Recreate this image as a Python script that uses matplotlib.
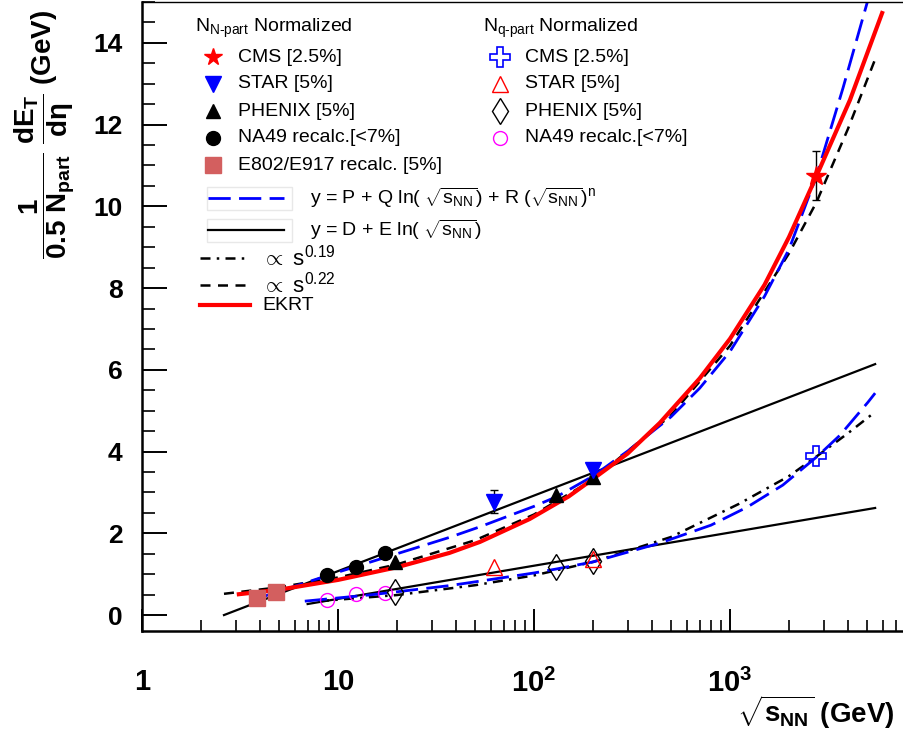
import matplotlib
matplotlib.use("Agg")
import matplotlib.pyplot as plt
from matplotlib.ticker import FixedLocator, MultipleLocator, NullFormatter
from matplotlib.patches import Rectangle

plt.rcParams['font.family'] = ['Liberation Sans', 'DejaVu Sans']
plt.rcParams['mathtext.fontset'] = 'custom'
plt.rcParams['mathtext.rm'] = 'Liberation Sans'
plt.rcParams['mathtext.it'] = 'Liberation Sans:italic'
plt.rcParams['mathtext.bf'] = 'Liberation Sans:bold'
plt.rcParams['mathtext.sf'] = 'Liberation Sans'

# --- N_part normalized data ---
cms_x = [2760]
cms_y = [10.75]
cms_err = [0.6]
star_x = [62.4, 200]
star_y = [2.77, 3.55]
star_err = [0.28, 0.15]
phenix_x = [19.6, 130, 200]
phenix_y = [1.30, 2.94, 3.38]
na49_x = [8.8, 12.3, 17.3]
na49_y = [0.98, 1.17, 1.52]
e802_x = [3.84, 4.80]
e802_y = [0.42, 0.57]

# --- N_q-part normalized data ---
cmsq_x = [2760]
cmsq_y = [3.89]
starq_x = [62.4, 200]
starq_y = [1.17, 1.37]
phenixq_x = [19.6, 130, 200]
phenixq_y = [0.56, 1.17, 1.32]
na49q_x = [8.8, 12.3, 17.3]
na49q_y = [0.37, 0.51, 0.54]

# --- curves ---
lin_hi_x = [2.62, 5500]
lin_hi_y = [0.0, 6.14]
lin_lo_x = [7.0, 5500]
lin_lo_y = [0.27, 2.62]

fit_hi_x = [3.68, 5, 10, 20, 37, 53, 100, 131, 200, 308, 500, 700, 1000, 1500,
            2000, 2760, 3773, 5300]
fit_hi_y = [0.37, 0.58, 1.05, 1.50, 1.90, 2.16, 2.66, 2.90, 3.40, 4.05, 4.85, 5.55,
            6.45, 7.8, 8.95, 10.74, 12.9, 15.4]

ekrt_x = [3.12, 5, 10, 20, 37, 53, 95, 150, 200, 300, 438, 700, 1000, 1500, 2000,
          2760, 4090, 5970]
ekrt_y = [0.51, 0.62, 0.86, 1.17, 1.52, 1.79, 2.35, 2.90, 3.33, 3.95, 4.70, 5.79,
          6.76, 8.08, 9.25, 10.74, 12.6, 14.73]

pow22_x = [2.62, 5, 10, 20, 50, 100, 200, 500, 1000, 2000, 2760, 4000, 5500]
pow22_y = [0.52, 0.68, 0.92, 1.24, 1.83, 2.46, 3.31, 4.89, 6.59, 8.85, 10.1, 11.9,
           13.6]

fit_lo_x = [6.77, 15, 37, 53, 100, 131, 200, 438, 800, 1223, 1859, 2800, 3640, 5060,
            5500]
fit_lo_y = [0.34, 0.50, 0.72, 0.83, 1.03, 1.13, 1.30, 1.76, 2.20, 2.64, 3.18, 3.89,
            4.40, 5.21, 5.43]

pow19_x = [8.0, 20, 50, 100, 200, 500, 1110, 2000, 2800, 4000, 5500]
pow19_y = [0.34, 0.49, 0.73, 0.97, 1.30, 1.91, 2.72, 3.40, 3.90, 4.45, 4.97]

SQ = '#d35f5f'

fig = plt.figure(figsize=(9.04, 7.36), dpi=100)
ax = fig.add_axes([142 / 904, 105 / 736, 762 / 904, 629 / 736])
ax.set_xscale('log')
ax.set_xlim(1, 7720)
ax.set_ylim(-0.39, 15.0)

# curves
ax.plot(lin_hi_x, lin_hi_y, color='black', lw=1.6)
ax.plot(lin_lo_x, lin_lo_y, color='black', lw=1.6)
ax.plot(pow22_x, pow22_y, color='black', lw=1.8, dashes=(4, 3))
ax.plot(pow19_x, pow19_y, color='black', lw=1.8, dashes=(4, 2.5, 1, 2.5))
ax.plot(fit_hi_x, fit_hi_y, color='blue', lw=2.0, dashes=(8, 3))
ax.plot(fit_lo_x, fit_lo_y, color='blue', lw=2.0, dashes=(8, 3))
ax.plot(ekrt_x, ekrt_y, color='red', lw=3.0)

# markers N_part
ax.plot(e802_x, e802_y, 's', color=SQ, ms=11, mec=SQ)
ax.plot(na49_x, na49_y, 'o', color='black', ms=10)
ax.plot(phenix_x, phenix_y, '^', color='black', ms=10)
ax.errorbar(star_x, star_y, yerr=star_err, fmt='v', color='blue', ms=11,
            ecolor='black', elinewidth=1, capsize=3)
ax.errorbar(cms_x, cms_y, yerr=cms_err, fmt='*', color='red', ms=15,
            ecolor='black', elinewidth=1, capsize=3)

# markers N_q-part
ax.plot(na49q_x, na49q_y, 'o', mfc='none', mec='magenta', ms=10, mew=1)
ax.plot(phenixq_x, phenixq_y, 'd', mfc='none', mec='black', ms=13, mew=1)
ax.plot(starq_x, starq_y, '^', mfc='none', mec='red', ms=12, mew=1)
ax.plot(cmsq_x, cmsq_y, 'P', mfc='none', mec='blue', ms=15, mew=1.2)

# axes style
for s in ['left', 'bottom']:
    ax.spines[s].set_linewidth(1.8)
ax.spines['top'].set_linewidth(1.0)
ax.spines['right'].set_visible(False)

ax.xaxis.set_major_locator(FixedLocator([1, 10, 100, 1000]))
ax.set_xticklabels(['1', '10', r'$\mathbf{10^{2}}$', r'$\mathbf{10^{3}}$'],
                   fontweight='bold', fontsize=21)
ax.xaxis.set_minor_locator(FixedLocator(
    [m * 10 ** d for d in range(0, 4) for m in range(2, 10)]))
ax.xaxis.set_minor_formatter(NullFormatter())
ax.set_yticks(range(0, 15, 2))
ax.yaxis.set_minor_locator(MultipleLocator(0.5))
ax.set_yticklabels([str(v) for v in range(0, 15, 2)], fontweight='bold', fontsize=19)
ax.tick_params(axis='x', which='major', direction='in', length=16, width=1.4, pad=27,
               top=False)
ax.tick_params(axis='x', which='minor', direction='in', length=8, width=1.2, top=False)
ax.tick_params(axis='y', which='major', direction='in', length=18, width=1.4, pad=14,
               right=False)
ax.tick_params(axis='y', which='minor', direction='in', length=9, width=1.2, right=False)

fig.text(895 / 904, 1 - 712 / 736, r'$\mathbf{\sqrt{s_{NN}}}$ (GeV)', ha='right',
         va='center', fontsize=20, fontweight='bold')
fig.text(45 / 904, 1 - 134 / 736,
         r'$\mathbf{\dfrac{1}{0.5\ N_{part}}\ \dfrac{dE_{T}}{d\eta}\ (GeV)}$',
         rotation=90, ha='center', va='center', fontsize=20)


# legend drawn in pixel layout
def P(xp, yp):
    return (xp - 142) / 762, (631 - yp) / 629


def row_marker(xp, yp, label, **kw):
    x0, y0 = P(xp, yp)
    ax.plot([x0], [y0], transform=ax.transAxes, clip_on=False, **kw)
    x1, _ = P(xp + 25, yp)
    ax.text(x1, y0, label, transform=ax.transAxes, fontsize=14, va='center')


def row_line(xa, xb, yp, xt, label, size=14, **kw):
    (x0, y0), (x1, _) = P(xa, yp), P(xb, yp)
    ax.plot([x0, x1], [y0, y0], transform=ax.transAxes, clip_on=False, **kw)
    ax.text(P(xt, yp)[0], y0, label, transform=ax.transAxes, fontsize=size, va='center')


hx, hy = P(195, 28)
ax.text(hx, hy, r'N$_{\mathrm{N\text{-}part}}$ Normalized', transform=ax.transAxes,
        fontsize=14, va='center')
hx, hy = P(483, 28)
ax.text(hx, hy, r'N$_{\mathrm{q\text{-}part}}$ Normalized', transform=ax.transAxes,
        fontsize=14, va='center')

row_marker(213, 57, 'CMS [2.5%]', marker='*', color='red', ms=13)
row_marker(213, 84, 'STAR [5%]', marker='v', color='blue', ms=11)
row_marker(213, 111, 'PHENIX [5%]', marker='^', color='black', ms=10)
row_marker(213, 138, 'NA49 recalc.[<7%]', marker='o', color='black', ms=10)
row_marker(213, 165, 'E802/E917 recalc. [5%]', marker='s', color=SQ, ms=11)

row_marker(500, 57, 'CMS [2.5%]', marker='P', mfc='none', mec='blue', ms=15, mew=1.2)
row_marker(500, 84, 'STAR [5%]', marker='^', mfc='none', mec='red', ms=12, mew=1)
row_marker(500, 111, 'PHENIX [5%]', marker='d', mfc='none', mec='black', ms=13, mew=1)
row_marker(500, 138, 'NA49 recalc.[<7%]', marker='o', mfc='none', mec='magenta', ms=10, mew=1)

for yb in (187, 219):
    bx, by = P(207, yb + 23)
    ax.add_patch(Rectangle((bx, by), 85 / 762, 23 / 629, transform=ax.transAxes,
                           fill=False, ec='#e8e8e8', lw=1, clip_on=False))
row_line(208, 284, 198, 310,
         r'y = P + Q ln( $\sqrt{\mathrm{s_{NN}}}$) + R ($\sqrt{\mathrm{s_{NN}}}$)$^{\mathrm{n}}$',
         color='blue', lw=2.0, dashes=(8, 3))
row_line(208, 284, 230, 310, r'y = D + E ln( $\sqrt{\mathrm{s_{NN}}}$)',
         color='black', lw=1.6)
row_line(200, 250, 258, 262, r'$\propto$ s$^{0.19}$', size=16, color='black', lw=1.8,
         dashes=(4, 2.5, 1, 2.5))
row_line(200, 250, 285, 262, r'$\propto$ s$^{0.22}$', size=16, color='black', lw=1.8,
         dashes=(4, 3))
row_line(200, 250, 305, 262, 'EKRT', color='red', lw=3.0)

fig.savefig('out.png', dpi=100)
